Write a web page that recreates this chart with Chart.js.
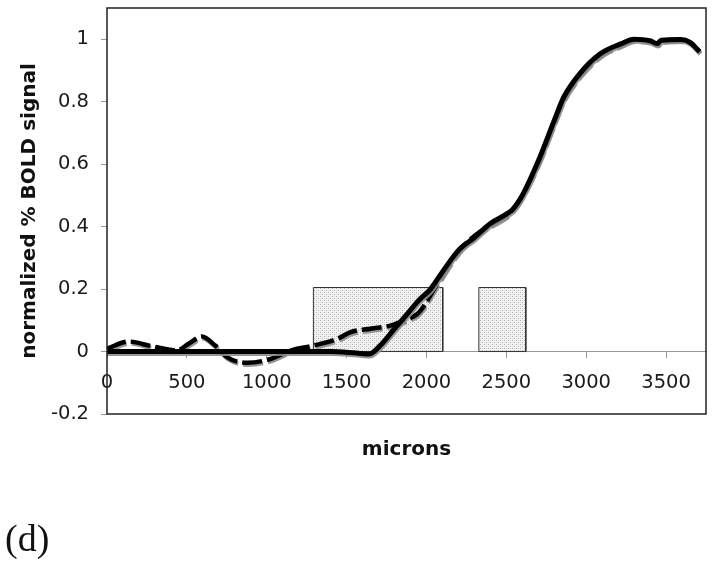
<!DOCTYPE html>
<html lang="en">
<head>
    <meta charset="UTF-8">
    <title>normalized % BOLD signal vs microns</title>
    <style>
        body {margin: 0;
              background: #fff;}
        #box {position: relative;
              width: 714px;
              height: 567px;}
    </style>
    <script src="https://cdn.jsdelivr.net/npm/chart.js"></script>
</head>
<body>
    <div id="box"><canvas id="grafico"></canvas></div>

    <script>
        // solid curve (microns / normalized signal)
        const solidX = [0, 500, 1000, 1400, 1560, 1640, 1712, 1795, 1879, 1950, 2025, 2100, 2200, 2300, 2400, 2500, 2540, 2600, 2700, 2800, 2860, 2960, 3090, 3215, 3300, 3400, 3445, 3470, 3590, 3650, 3710];
        const solidY = [0, 0, 0, 0, -0.005, -0.008, 0.02, 0.07, 0.12, 0.163, 0.2, 0.255, 0.324, 0.365, 0.41, 0.44, 0.455, 0.5, 0.61, 0.74, 0.815, 0.89, 0.954, 0.985, 1.0, 0.995, 0.986, 0.997, 0.999, 0.99, 0.96];

        // dashed curve
        const dashX = [0, 135, 281, 438, 511, 594, 678, 710, 751, 877, 1023, 1148, 1292, 1440, 1524, 1649, 1774, 1858, 1942, 1983, 2025, 2100, 2200, 2300, 2400, 2500, 2540, 2600, 2700, 2800, 2860, 2960, 3090, 3215, 3300, 3400, 3445, 3470, 3590, 3650, 3710];
        const dashY = [0.009, 0.032, 0.017, 0.004, 0.025, 0.048, 0.019, 0.003, -0.018, -0.036, -0.024, 0.003, 0.019, 0.04, 0.062, 0.073, 0.083, 0.099, 0.12, 0.145, 0.18, 0.245, 0.32, 0.37, 0.405, 0.435, 0.455, 0.5, 0.605, 0.735, 0.81, 0.885, 0.95, 0.982, 0.998, 0.993, 0.984, 0.995, 0.998, 0.99, 0.96];

        // shaded boxes
        const boxStart = [1292, 2328];
        const boxEnd = [2102, 2622];
        const boxTop = 0.205;

        // axis ticks
        const xTicks = [0, 500, 1000, 1500, 2000, 2500, 3000, 3500];
        const yTicks = [-0.2, 0, 0.2, 0.4, 0.6, 0.8, 1];

        const xMax = 3750;
        const yMin = -0.2;
        const yMax = 1.1;

        // dotted grey fill for the boxes
        const pat = document.createElement('canvas');
        pat.width = 4;
        pat.height = 4;
        const pc = pat.getContext('2d');
        pc.fillStyle = '#f2f2f2';
        pc.fillRect(0, 0, 4, 4);
        pc.fillStyle = '#b4b4b4';
        pc.fillRect(0, 0, 1, 1);
        pc.fillRect(2, 2, 1, 1);
        pc.fillStyle = '#dcdcdc';
        pc.fillRect(2, 0, 1, 1);
        pc.fillRect(0, 2, 1, 1);
        const fillPattern = pc.createPattern(pat, 'repeat');

        function punti(xs, ys) {
            return xs.map((x, i) => ({x: x, y: ys[i]}));
        }

        const datasets = [];
        boxStart.forEach((x0, i) => {
            const x1 = boxEnd[i];
            // box outline + fill down to zero
            datasets.push({
                data: [{x: x0, y: 0}, {x: x0, y: boxTop}, {x: x1, y: boxTop}, {x: x1, y: 0}],
                showLine: true,
                borderColor: '#333',
                borderWidth: 1,
                backgroundColor: fillPattern,
                fill: 'origin',
                tension: 0,
                pointRadius: 0,
                order: 4,
                ombra: false
            });
            // bottom edge of the box
            datasets.push({
                data: [{x: x0, y: 0}, {x: x1, y: 0}],
                showLine: true,
                borderColor: '#333',
                borderWidth: 1,
                fill: false,
                tension: 0,
                pointRadius: 0,
                order: 3,
                ombra: false
            });
        });

        datasets.push({
            data: punti(dashX, dashY),
            showLine: true,
            borderColor: '#000',
            borderWidth: 4.5,
            borderDash: [20, 5],
            cubicInterpolationMode: 'monotone',
            pointRadius: 0,
            fill: false,
            order: 2,
            ombra: true
        });

        datasets.push({
            data: punti(solidX, solidY),
            showLine: true,
            borderColor: '#000',
            borderWidth: 5,
            cubicInterpolationMode: 'monotone',
            pointRadius: 0,
            fill: false,
            order: 1,
            ombra: true
        });

        // grey drop shadow under the curves
        const ombraPlugin = {
            id: 'ombra',
            beforeDatasetDraw(chart, args) {
                const ctx = chart.ctx;
                ctx.save();
                if (args.meta._dataset.ombra) {
                    ctx.shadowColor = 'rgba(140,140,140,0.9)';
                    ctx.shadowOffsetX = 1;
                    ctx.shadowOffsetY = 2;
                    ctx.shadowBlur = 0;
                }
            },
            afterDatasetDraw(chart) {
                chart.ctx.restore();
            }
        };

        // frame and extra texts
        const cornicePlugin = {
            id: 'cornice',
            afterDraw(chart) {
                const ctx = chart.ctx;
                const a = chart.chartArea;
                ctx.save();
                ctx.strokeStyle = '#222';
                ctx.lineWidth = 1.5;
                ctx.strokeRect(a.left, a.top, a.right - a.left, a.bottom - a.top);

                ctx.fillStyle = '#111';
                ctx.textAlign = 'center';
                ctx.textBaseline = 'alphabetic';
                ctx.font = 'bold 20px "DejaVu Sans"';
                ctx.fillText('microns', (a.left + a.right) / 2, 455);

                ctx.textAlign = 'left';
                ctx.font = '38px "Liberation Serif"';
                ctx.fillText('(d)', 5, 551);
                ctx.restore();
            }
        };

        new Chart(document.getElementById('grafico'), {
            type: 'scatter',
            data: {datasets: datasets},
            options: {
                responsive: true,
                maintainAspectRatio: false,
                animation: false,
                layout: {padding: {left: 0, top: 8, right: 8, bottom: 153}},
                plugins: {
                    legend: {display: false},
                    tooltip: {enabled: false}
                },
                scales: {
                    x: {
                        type: 'linear',
                        position: {y: 0},
                        min: 0,
                        max: xMax,
                        afterBuildTicks: s => { s.ticks = xTicks.map(v => ({value: v})); },
                        afterFit: s => { s.paddingLeft = 0; s.paddingRight = 0; },
                        grid: {drawOnChartArea: false, drawTicks: true, tickLength: 6, color: '#999'},
                        border: {display: true, color: '#999', width: 1},
                        ticks: {
                            autoSkip: false,
                            maxRotation: 0,
                            padding: 14,
                            color: '#1a1a1a',
                            font: {family: 'DejaVu Sans', size: 19.5},
                            callback: v => String(v)
                        }
                    },
                    y: {
                        min: yMin,
                        max: yMax,
                        afterBuildTicks: s => { s.ticks = yTicks.map(v => ({value: v})); },
                        afterFit: s => { s.width = 107; s.paddingTop = 0; s.paddingBottom = 0; },
                        grid: {drawOnChartArea: false, drawTicks: true, tickLength: 6, color: '#999'},
                        border: {display: false},
                        ticks: {
                            padding: 12,
                            color: '#1a1a1a',
                            font: {family: 'DejaVu Sans', size: 19.5},
                            callback: v => String(Number(v.toFixed(1)))
                        },
                        title: {
                            display: true,
                            text: 'normalized % BOLD signal',
                            color: '#111',
                            font: {family: 'DejaVu Sans', size: 20, weight: 'bold'},
                            padding: {top: 18, bottom: 0}
                        }
                    }
                }
            },
            plugins: [ombraPlugin, cornicePlugin]
        });
    </script>
</body>
</html>
